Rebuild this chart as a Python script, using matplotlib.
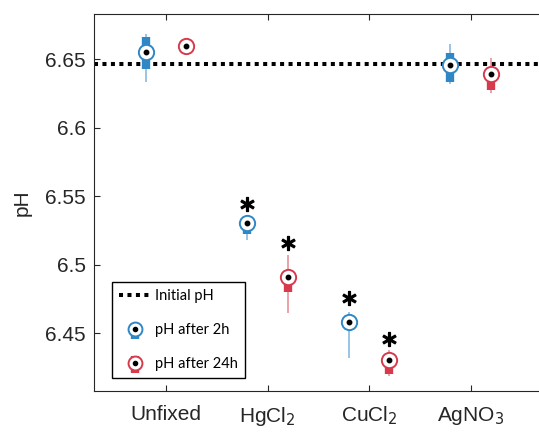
import numpy as np
import matplotlib
matplotlib.use("Agg")
import matplotlib.pyplot as plt
from matplotlib.lines import Line2D
from matplotlib.legend_handler import HandlerBase

# =================================
# Data
# =================================
groups = ["Unfixed", "HgCl$_2$", "CuCl$_2$", "AgNO$_3$"]
initial_ph = 6.647

# whisker low, q1, median, q3, whisker high
ph_2h_lo = [6.6335, 6.5183, 6.4320, 6.6323]
ph_2h_q1 = [6.6433, 6.5227, 6.4520, 6.6335]
ph_2h_med = [6.6554, 6.5307, 6.4580, 6.6462]
ph_2h_q3 = [6.6664, 6.5345, 6.4630, 6.6547]
ph_2h_hi = [6.6684, 6.5350, 6.4654, 6.6616]

ph_24h_lo = [6.6588, 6.4650, 6.4191, 6.6254]
ph_24h_q1 = [6.6590, 6.4800, 6.4203, 6.6274]
ph_24h_med = [6.6596, 6.4909, 6.4306, 6.6393]
ph_24h_q3 = [6.6600, 6.4950, 6.4340, 6.6444]
ph_24h_hi = [6.6602, 6.5068, 6.4374, 6.6513]

# significance marks (nan = none)
star_2h = [np.nan, 6.5446, 6.4759, np.nan]
star_24h = [np.nan, 6.5158, 6.4459, np.nan]

BLUE = "#2f87c5"
BLUE_LIGHT = "#7fb3dc"
RED = "#d83a4d"
RED_LIGHT = "#e58893"
AXCOL = "#262626"

TICK_FONT = ["Liberation Sans", "DejaVu Sans"]
LEG_FONT = ["Lato", "DejaVu Sans"]

# =================================
# Helpers
# =================================
def draw_compact_box(ax, x, lo, q1, med, q3, hi, color, light):
    ax.vlines(x, lo, hi, color=light, linewidth=1.1, zorder=2)
    ax.vlines(x, q1, q3, color=color, linewidth=6, zorder=3)
    ax.plot(x, med, "o", ms=11, mfc="white", mec=color, mew=1.4, zorder=4)
    ax.plot(x, med, "o", ms=3.2, color="black", zorder=5)


class BoxHandler(HandlerBase):
    def __init__(self, color):
        super().__init__()
        self.color = color

    def create_artists(self, legend, orig_handle, xdescent, ydescent,
                       width, height, fontsize, trans):
        cx = 0.55 * width - xdescent
        cy = 0.5 * height - ydescent
        bar = Line2D([cx, cx], [cy - 1.0 * height, cy + 0.6 * height],
                     color=self.color, linewidth=6, solid_capstyle="butt",
                     transform=trans)
        circ = Line2D([cx], [cy], marker="o", ms=10, mfc="white",
                      mec=self.color, mew=1.4, transform=trans)
        dot = Line2D([cx], [cy], marker="o", ms=3, color="black",
                     transform=trans)
        return [bar, circ, dot]


# =================================
# Plot
# =================================
fig = plt.figure(figsize=(5.39, 4.33), dpi=100)
ax = fig.add_axes([0.175, 0.0977, 0.836, 0.8693])

pos = np.arange(1, len(groups) + 1)
off = 0.2

ax.axhline(initial_ph, color="black", linewidth=2.9,
           linestyle=(0, (1, 1.1)), zorder=1)

for i, x in enumerate(pos):
    draw_compact_box(ax, x - off, ph_2h_lo[i], ph_2h_q1[i], ph_2h_med[i],
                     ph_2h_q3[i], ph_2h_hi[i], BLUE, BLUE_LIGHT)
    draw_compact_box(ax, x + off, ph_24h_lo[i], ph_24h_q1[i], ph_24h_med[i],
                     ph_24h_q3[i], ph_24h_hi[i], RED, RED_LIGHT)

ax.plot(pos - off, star_2h, linestyle="none", marker=r"$\ast$", ms=10,
        color="black", zorder=6)
ax.plot(pos + off, star_24h, linestyle="none", marker=r"$\ast$", ms=10,
        color="black", zorder=6)

ax.set_xlim(0.295, 4.73)
ax.set_ylim(6.408, 6.683)
ax.set_xticks(pos)
ax.set_xticklabels(groups, family=TICK_FONT, fontsize=15, color=AXCOL)
ax.set_yticks([6.45, 6.5, 6.55, 6.6, 6.65])
ax.set_yticklabels(["6.45", "6.5", "6.55", "6.6", "6.65"],
                   family=TICK_FONT, fontsize=15, color=AXCOL)
ax.tick_params(axis="both", direction="in", length=4, width=0.8,
               color=AXCOL, top=True, right=True)
ax.tick_params(axis="x", pad=10)
ax.tick_params(axis="y", pad=6)
for s in ax.spines.values():
    s.set_color(AXCOL)
    s.set_linewidth(0.8)

ax.set_ylabel("pH", family=TICK_FONT, fontsize=15, color=AXCOL)
ax.yaxis.set_label_coords(-0.139, 0.5)

h_init = Line2D([], [], color="black", linewidth=2.9, linestyle=(0, (1, 1.1)))
h_2h = Line2D([], [], color=BLUE)
h_24h = Line2D([], [], color=RED)
leg = ax.legend([h_init, h_2h, h_24h],
                ["Initial pH", "pH after 2h", "pH after 24h"],
                handler_map={h_2h: BoxHandler(BLUE), h_24h: BoxHandler(RED)},
                loc="lower left", bbox_to_anchor=(0.0395, 0.0337),
                borderaxespad=0, fancybox=False, framealpha=1,
                edgecolor="black", handlelength=2.0, handletextpad=0.45,
                borderpad=0.5, labelspacing=1.35,
                prop={"family": LEG_FONT, "size": 10.5})
leg.get_frame().set_linewidth(1.0)

fig.savefig("out.png", dpi=100)
